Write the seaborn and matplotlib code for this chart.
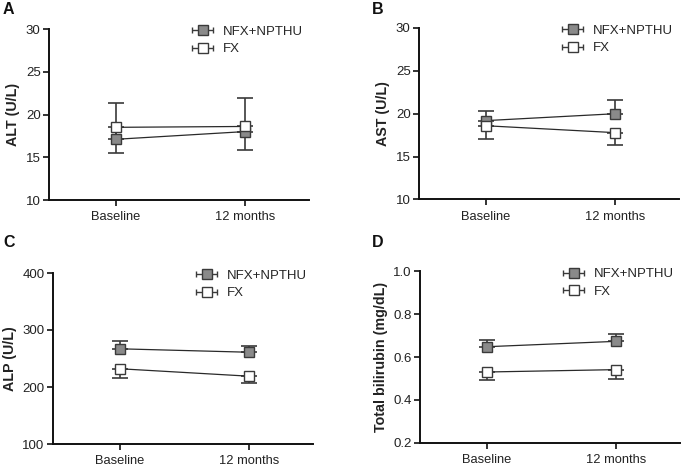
import numpy as np
import pandas as pd
import seaborn as sns
import matplotlib
matplotlib.use("Agg")
import matplotlib.pyplot as plt
from matplotlib.container import ErrorbarContainer
from matplotlib.legend_handler import HandlerErrorbar

sns.set_theme(style="ticks")
plt.rcParams['font.family'] = ['Liberation Sans', 'DejaVu Sans']

timepoints = ["Baseline", "12 months"]
groups = ["NFX+NPTHU", "FX"]

# Panel A: ALT (U/L)
alt_nfx = [17.1, 18.0]
alt_nfx_upper = [4.3, 3.9]
alt_fx = [18.5, 18.6]
alt_fx_lower = [3.0, 2.75]

# Panel B: AST (U/L)
ast_nfx = [19.2, 20.0]
ast_nfx_upper = [1.1, 1.65]
ast_fx = [18.6, 17.8]
ast_fx_lower = [1.6, 1.45]

# Panel C: ALP (U/L)
alp_nfx = [267, 261]
alp_nfx_upper = [13, 11]
alp_fx = [232, 219]
alp_fx_lower = [16, 12]

# Panel D: Total bilirubin (mg/dL)
tb_nfx = [0.648, 0.673]
tb_nfx_upper = [0.030, 0.036]
tb_fx = [0.530, 0.541]
tb_fx_lower = [0.036, 0.042]

panels = [
    dict(letter="A", ylabel="ALT (U/L)", nfx=alt_nfx, nfx_up=alt_nfx_upper, fx=alt_fx, fx_lo=alt_fx_lower,
         ylim=(10, 30), yticks=[10, 15, 20, 25, 30], fmt="{:.0f}",
         rect=[49/682, 1-200/465, 260/682, 171/465]),
    dict(letter="B", ylabel="AST (U/L)", nfx=ast_nfx, nfx_up=ast_nfx_upper, fx=ast_fx, fx_lo=ast_fx_lower,
         ylim=(10, 30), yticks=[10, 15, 20, 25, 30], fmt="{:.0f}",
         rect=[419/682, 1-199.5/465, 260/682, 171.5/465]),
    dict(letter="C", ylabel="ALP (U/L)", nfx=alp_nfx, nfx_up=alp_nfx_upper, fx=alp_fx, fx_lo=alp_fx_lower,
         ylim=(100, 400), yticks=[100, 200, 300, 400], fmt="{:.0f}",
         rect=[53/682, 1-444/465, 260/682, 171/465]),
    dict(letter="D", ylabel="Total bilirubin (mg/dL)", nfx=tb_nfx, nfx_up=tb_nfx_upper, fx=tb_fx, fx_lo=tb_fx_lower,
         ylim=(0.2, 1.0), yticks=[0.2, 0.4, 0.6, 0.8, 1.0], fmt="{:.1f}",
         rect=[420/682, 1-442.7/465, 260/682, 171.4/465]),
]

letter_pos = {"A": (3/682, 1-2/465), "B": (372/682, 1-2/465), "C": (3/682, 1-235/465), "D": (372/682, 1-235/465)}

fig = plt.figure(figsize=(6.82, 4.65), dpi=100)

line_col = "#2a2a2a"
err_col = "#3a3a3a"
nfx_face = "#8a8a8a"
edge_col = "#3a3a3a"
ms = 7.5

for p in panels:
    ax = fig.add_axes(p["rect"])
    x = np.arange(len(timepoints))
    df = pd.DataFrame({
        "time": timepoints * 2,
        "value": list(p["nfx"]) + list(p["fx"]),
        "group": [groups[0]] * 2 + [groups[1]] * 2,
    })
    # error bars (one-sided: NFX upward, FX downward)
    ax.errorbar(x, p["nfx"], yerr=[np.zeros(2), p["nfx_up"]], fmt="none", ecolor=err_col,
                elinewidth=1.2, capsize=5.5, capthick=1.2, zorder=1)
    ax.errorbar(x, p["fx"], yerr=[p["fx_lo"], np.zeros(2)], fmt="none", ecolor=err_col,
                elinewidth=1.2, capsize=5.5, capthick=1.2, zorder=1)
    # lines + markers via seaborn
    for g, face in zip(groups, [nfx_face, "white"]):
        sub = df[df["group"] == g]
        sns.lineplot(data=sub, x="time", y="value", ax=ax, color=line_col, lw=0.9,
                     marker="s", markersize=ms, markerfacecolor=face, markeredgecolor=edge_col,
                     markeredgewidth=1.0, legend=False, zorder=3, sort=False)
    ax.set_xlim(-0.52, 1.5)
    ax.set_ylim(*p["ylim"])
    ax.set_yticks(p["yticks"])
    ax.set_yticklabels([p["fmt"].format(v) for v in p["yticks"]], fontsize=9.5, color="#222222")
    ax.set_xticks(x)
    ax.set_xticklabels(timepoints, fontsize=9.3, color="#222222")
    ax.set_xlabel("")
    ax.set_ylabel(p["ylabel"], fontsize=10.3, fontweight="bold", color="#222222", labelpad=4)
    sns.despine(ax=ax)
    for s in ["left", "bottom"]:
        ax.spines[s].set_linewidth(1.4)
        ax.spines[s].set_color("#111111")
    ax.tick_params(axis="both", direction="out", length=4, width=1.2, color="#111111")
    ax.tick_params(axis="y", pad=2)
    ax.tick_params(axis="x", pad=4)
    ax.patch.set_alpha(0)

    # legend with errorbar-style handles
    h1 = ax.errorbar([np.nan], [np.nan], xerr=[1], fmt="s", mfc=nfx_face, mec=edge_col, ms=ms,
                     ecolor=err_col, elinewidth=1.0, capsize=2.5, capthick=1.0)
    h2 = ax.errorbar([np.nan], [np.nan], xerr=[1], fmt="s", mfc="white", mec=edge_col, ms=ms,
                     ecolor=err_col, elinewidth=1.0, capsize=2.5, capthick=1.0)
    ax.legend([h1, h2], groups, loc="upper left", bbox_to_anchor=(0.52, 1.05), frameon=False,
              fontsize=9.5, handlelength=2.0, handletextpad=0.55, labelspacing=0.4, borderaxespad=0,
              handler_map={ErrorbarContainer: HandlerErrorbar(xerr_size=0.8)})

    lx, ly = letter_pos[p["letter"]]
    fig.text(lx, ly, p["letter"], fontsize=11.5, fontweight="bold", va="top", ha="left", color="#111111")

fig.savefig("out.png", dpi=100)
